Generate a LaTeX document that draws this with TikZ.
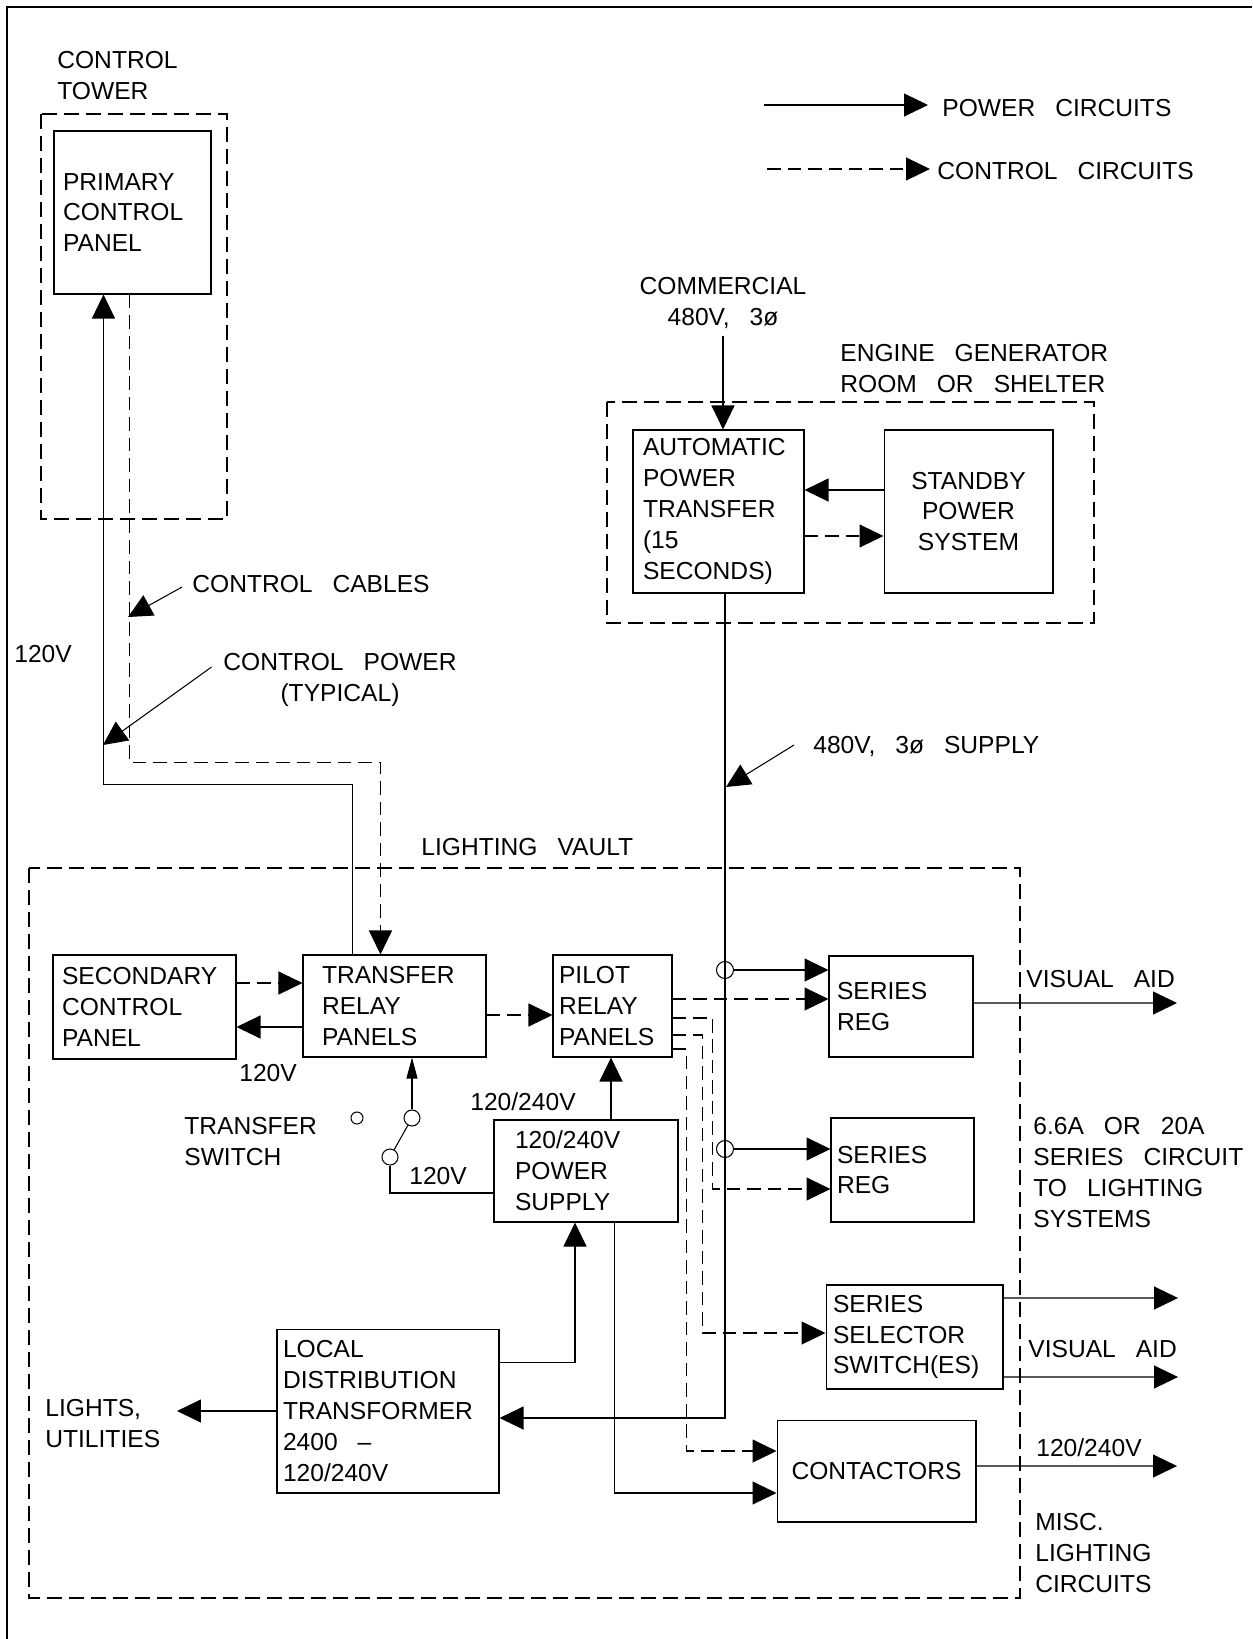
\documentclass[tikz,border=0pt]{standalone}
\usepackage{fontspec}
\setmainfont{Liberation Sans}
\usetikzlibrary{arrows.meta}
\newcommand{\labelfont}{\fontsize{14pt}{17.6pt}\selectfont\hyphenpenalty=10000 }
\newcommand{\wgap}{\hspace{0.4cm}}

\begin{document}
\begin{tikzpicture}[
    x=0.02cm, y=-0.02cm,
    every node/.style={font=\labelfont, inner sep=0pt},
    unit/.style={rectangle, draw, line width=0.6pt, align=left},
    zone/.style={draw, line width=0.6pt, dash pattern=on 0.3cm off 0.14cm},
    tag/.style={anchor=north west, align=left},
    pw/.style={line width=0.6pt, -{Triangle[length=0.48cm,width=0.46cm]}},
    ctl/.style={pw, dash pattern=on 0.27cm off 0.14cm},
    wire/.style={line width=0.6pt},
    terminal/.style={circle, draw, line width=0.6pt, minimum size=0.32cm}
]
\useasboundingbox (0,0) rectangle (1252,1639);
\draw[line width=1.2pt] (1252,7) -| (7,1639);

% Zones
\draw[zone] (41,114) rectangle (227,519);
\draw[zone] (607,402) rectangle (1094,623);
\draw[zone] (29,868) rectangle (1020,1598);

% Main blocks
\node[unit, inner xsep=0.18cm, text width=2.78cm, minimum height=3.26cm] (pcp) at (132.5,212.5) {PRIMARY\\CONTROL\\PANEL};
\node[unit, inner xsep=0.2cm, text width=3.02cm, minimum height=3.26cm] (apt) at (718.5,511.5) {AUTOMATIC\\POWER\\TRANSFER\\(15\\SECONDS)};
\node[unit, align=center, inner xsep=0.16cm, text width=3.06cm, minimum height=3.26cm] (sps) at (968.5,511.5) {STANDBY\\POWER\\SYSTEM};
\node[unit, inner xsep=0.18cm, text width=3.3cm, minimum height=2.08cm] (scp) at (144.5,1007) {SECONDARY\\CONTROL\\PANEL};
\node[unit, inner xsep=0.38cm, text width=2.9cm, minimum height=2.04cm] (trp) at (394.5,1006) {TRANSFER\\RELAY\\PANELS};
\node[unit, inner xsep=0.12cm, text width=2.14cm, minimum height=2.04cm] (prp) at (612.5,1006) {PILOT\\RELAY\\PANELS};
\node[unit, inner xsep=0.16cm, text width=2.56cm, minimum height=2.02cm] (reg1) at (901,1006.5) {SERIES\\REG};
\node[unit, inner xsep=0.12cm, text width=2.62cm, minimum height=2.08cm] (reg2) at (902.5,1170) {SERIES\\REG};
\node[unit, inner xsep=0.42cm, text width=2.84cm, minimum height=2.04cm] (ps) at (586,1171) {120/240V\\POWER\\SUPPLY};
\node[unit, inner xsep=0.14cm, text width=3.26cm, minimum height=2.08cm] (sel) at (914.5,1337) {SERIES\\SELECTOR\\SWITCH(ES)};
\node[unit, align=center, inner xsep=0.16cm, text width=3.66cm, minimum height=2.04cm] (con) at (876.5,1471) {CONTACTORS};
\node[unit, inner xsep=0.12cm, text width=4.2cm, minimum height=3.28cm] (ldt) at (388,1411) {LOCAL\\DISTRIBUTION\\TRANSFORMER\\2400\wgap –\\120/240V};

% Switch and taps
\node[terminal, minimum size=0.34cm] (tap1) at (725,970) {};
\node[terminal, minimum size=0.34cm] (tap2) at (725,1149) {};
\node[terminal] (sw1) at (412,1118) {};
\node[terminal] (sw2) at (390,1157) {};
\node[terminal, minimum size=0.24cm] (sw0) at (357,1118) {};

% Labels
\node[tag] (tower) at (57,51) {CONTROL\\TOWER};
\node[tag] (v120a) at (14,645) {120V};
\node[tag] (ccab) at (192,575) {CONTROL\wgap CABLES};
\node[anchor=north, align=center] (cpow) at (340,653) {CONTROL\wgap POWER\\(TYPICAL)};
\node[tag] (lpow) at (942,99) {POWER\wgap CIRCUITS};
\node[tag] (lctl) at (937,162) {CONTROL\wgap CIRCUITS};
\node[anchor=north, align=center] (comm) at (723,277) {COMMERCIAL\\480V,\wgap 3ø};
\node[tag] (egen) at (840,344) {ENGINE\wgap GENERATOR\\ROOM\wgap OR\wgap SHELTER};
\node[tag] (supply) at (813,736) {480V,\wgap 3ø\wgap SUPPLY};
\node[tag] (vault) at (421,838) {LIGHTING\wgap VAULT};
\node[tag] (v120b) at (239,1064) {120V};
\node[tag] (tsw) at (184,1117) {TRANSFER\\SWITCH};
\node[tag] (v240a) at (470,1092) {120/240V};
\node[tag] (v120c) at (409,1167) {120V};
\node[tag] (vis1) at (1026,970) {VISUAL\wgap AID};
\node[tag] (series) at (1033,1117) {6.6A\wgap OR\wgap 20A\\SERIES\wgap CIRCUIT\\TO\wgap LIGHTING\\SYSTEMS};
\node[tag] (vis2) at (1028,1340) {VISUAL\wgap AID};
\node[tag] (v240b) at (1036,1438) {120/240V};
\node[tag] (misc) at (1035,1513) {MISC.\\LIGHTING\\CIRCUITS};
\node[tag] (lights) at (45,1399) {LIGHTS,\\UTILITIES};

% Free ends
\coordinate (lp0) at (764,105);
\coordinate (lp1) at (928,105);
\coordinate (lc0) at (767,169);
\coordinate (lc1) at (930,169);
\coordinate (ccabtip) at (128,617);
\coordinate (cpowtip) at (103,745);
\coordinate (supplytip) at (726,787);
\coordinate (lighttip) at (177,1411);
\coordinate (out1) at (1177,1003);
\coordinate (out2) at (1178,1298);
\coordinate (out3) at (1178,1377);
\coordinate (out4) at (1177,1466);

% Legend
\draw[pw] (lp0) -- (lp1);
\draw[ctl] (lc0) -- (lc1);

% Tower links
\draw[pw] ([xshift=1cm]trp.north west) -- ++(0,-170) -| ([xshift=1cm]pcp.south west);
\draw[ctl] ([xshift=1.52cm]pcp.south west) -- ++(0,468) -| ([xshift=1.56cm]trp.north west);
\draw[pw] ([xshift=-0.2cm,yshift=-0.06cm]ccab.west) -- (ccabtip);
\draw[pw] ([xshift=-0.23cm,yshift=-0.28cm]cpow.north west) -- (cpowtip);

% Engine generator room
\draw[pw] ([yshift=-0.14cm]comm.south) -- (apt.north -| comm.south);
\draw[pw] ([yshift=0.43cm]sps.west) -- ([yshift=0.43cm]apt.east);
\draw[ctl] ([yshift=-0.49cm]apt.east) -- ([yshift=-0.49cm]sps.west);

% 480V feeder
\draw[pw] ([xshift=0.13cm]apt.south) |- ([yshift=-0.14cm]ldt.east);
\draw[pw] ([xshift=-0.38cm,yshift=-0.18cm]supply.north west) -- (supplytip);
\draw[pw] (tap1) -- (tap1 -| reg1.west);
\draw[pw] (tap2) -- (tap2 -| reg2.west);

% Vault control
\draw[ctl] ([yshift=0.48cm]scp.east) -- ([yshift=0.48cm]scp.east -| trp.west);
\draw[pw] ([yshift=-0.42cm]trp.west) -- ([yshift=-0.42cm]trp.west -| scp.east);
\draw[ctl] ([yshift=-0.18cm]trp.east) -- ([yshift=-0.18cm]trp.east -| prp.west);
\draw[ctl] ([yshift=0.14cm]prp.east) -- ([yshift=0.14cm]prp.east -| reg1.west);
\draw[ctl] ([yshift=-0.24cm]prp.east) -- ++(40,0) |- ([yshift=-0.38cm]reg2.west);
\draw[ctl] ([yshift=-0.58cm]prp.east) -- ++(30,0) |- ([yshift=0.08cm]sel.west);
\draw[ctl] ([yshift=-0.86cm]prp.east) -- ++(14,0) |- ([yshift=0.4cm]con.west);

% Power supply
\draw[pw] ([xshift=0.5cm]ps.north) -- ([xshift=0.5cm]ps.north |- prp.south);
\draw[pw] ([yshift=0.98cm]ldt.east) -| ([xshift=-0.22cm]ps.south);
\draw[pw] ([xshift=0.57cm]ps.south) |- ([yshift=-0.44cm]con.west);
\draw[pw] (ldt.west) -- (lighttip);

% Transfer switch
\draw[wire] (sw2) -- (sw1);
\draw[wire] (sw2.south) |- ([yshift=-0.44cm]ps.west);
\draw[line width=0.6pt, -{Triangle[length=0.42cm,width=0.22cm]}] (sw1.north) -- (sw1.north |- trp.south);

% Outputs
\draw[pw] ([yshift=0.07cm]reg1.east) -- (out1);
\draw[pw] ([yshift=0.78cm]sel.east) -- (out2);
\draw[pw] ([yshift=-0.8cm]sel.east) -- (out3);
\draw[pw] ([yshift=0.1cm]con.east) -- (out4);

\end{tikzpicture}
\end{document}
